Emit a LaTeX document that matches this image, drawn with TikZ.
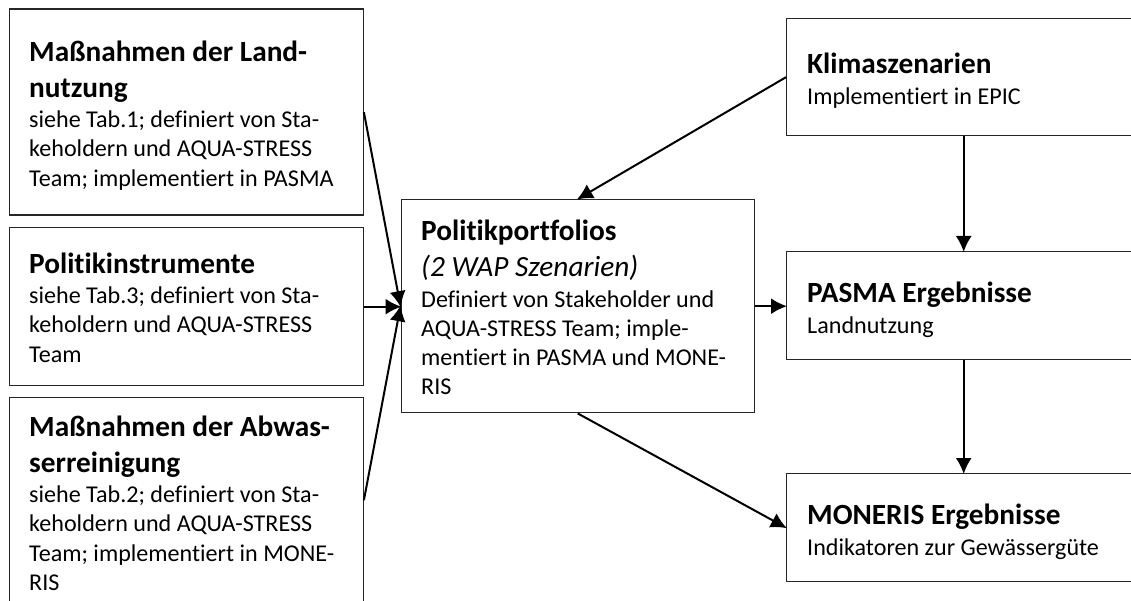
\documentclass[tikz,border=0pt]{standalone}
\usepackage{fontspec}
\setmainfont[Ligatures=NoCommon]{Carlito}
\usetikzlibrary{arrows.meta}
\newcommand{\hd}[1]{{\fontsize{29.3}{29.3}\selectfont\bfseries #1}}
\newcommand{\hi}[1]{{\fontsize{29.3}{29.3}\selectfont\itshape #1}}
\tikzset{
  box/.style={draw=black!85,line width=1.4pt,minimum width=#1,inner sep=0pt,anchor=north west},
  txt/.style={inner sep=0pt,anchor=north west,align=left,font=\fontsize{24.1}{29.3}\selectfont},
  con/.style={draw=black,line width=2pt,-{Latex[length=16pt,width=16pt]},shorten >=-1pt},
}
\begin{document}
\begin{tikzpicture}[x=1pt,y=-1pt]
\useasboundingbox (0,0) rectangle (1131,601);
\fill[white] (0,0) rectangle (1131,601);
\node[box=354pt,minimum height=206pt] (b1) at (8.5,8.5) {};
\node[box=354pt,minimum height=158pt] (b2) at (8.5,227) {};
\node[box=354pt,minimum height=205pt] (b3) at (8.5,397) {};
\node[box=353pt,minimum height=213pt] (c) at (400.5,199) {};
\node[box=354pt,minimum height=117pt] (k) at (786,18) {};
\node[box=354pt,minimum height=108pt] (p) at (786,251) {};
\node[box=354pt,minimum height=108pt] (m) at (786,473) {};

\node[txt] (t1) at (29,40.5) {\hd{Maßnahmen der Land-}\\[6.7pt]\hd{nutzung}\\[1pt]siehe Tab.1; definiert von Sta-\\keholdern und AQUA-STRESS\\Team; implementiert in PASMA};
\node[txt] (t2) at (29,252.5) {\hd{Politikinstrumente}\\[1pt]siehe Tab.3; definiert von Sta-\\keholdern und AQUA-STRESS\\Team};
\node[txt] (t3) at (29,415.5) {\hd{Maßnahmen der Abwas-}\\[6.7pt]\hd{serreinigung}\\[1pt]siehe Tab.2; definiert von Sta-\\keholdern und AQUA-STRESS\\Team; implementiert in MONE-\\RIS};
\node[txt] (t4) at (421,219.5) {\hd{Politikportfolios}\\[7.2pt]\hi{(2 WAP Szenarien)}\\[1pt]Definiert von Stakeholder und\\AQUA-STRESS Team; imple-\\mentiert in PASMA und MONE-\\RIS};
\node[txt] (t5) at (807,53) {\hd{Klimaszenarien}\\[1.5pt]Implementiert in EPIC};
\node[txt] (t6) at (807,282) {\hd{PASMA Ergebnisse}\\[1pt]Landnutzung};
\node[txt] (t7) at (807,504) {\hd{MONERIS Ergebnisse}\\[1pt]Indikatoren zur Gewässergüte};

\draw[con] (b1.east) -- (c.west);
\draw[con] (b2.east) -- (b2.east -| c.west);
\draw[con] (b3.east) -- (c.west);
\draw[con] (k.west) -- (c.north);
\draw[con] (c.east) -- (c.east -| p.west);
\draw[con] (c.south) -- (m.west);
\draw[con] (k.south) -- (p.north);
\draw[con] (p.south) -- (m.north);
\end{tikzpicture}
\end{document}
